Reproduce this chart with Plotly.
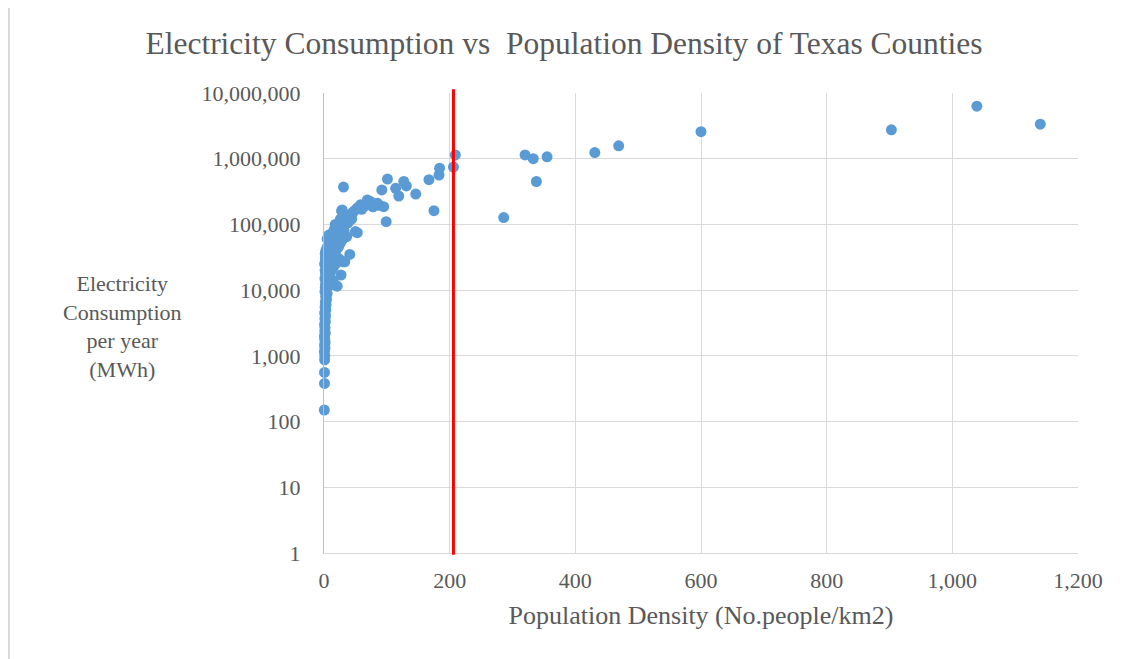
import plotly.graph_objects as go

# Population density (people/km2) and electricity consumption (MWh/yr)
density = [
    0.5, 0.8, 0.8, 1.0, 1.2, 0.6, 1.5, 0.9, 1.8, 1.1, 0.7, 2.0, 1.3, 1.6, 0.9, 2.2, 1.4, 2.5,
    1.0, 2.8, 1.7, 3.2, 2.1, 4.0, 2.6, 5.0, 1.5, 3.5, 6.5, 2.4, 4.5, 8.0, 3.0, 5.5, 1.8, 7.0,
    1.0, 2.0, 3.0, 1.5, 2.5, 4.0, 6.0, 3.0, 7.0, 5.0, 8.0, 9.0, 2.0, 3.8, 6.0,
    10, 18, 14, 21, 9, 27, 12, 16, 6, 20, 24, 11, 4, 15, 19, 8, 23, 13, 26, 17, 5, 21, 10, 28,
    14, 22, 30, 18, 35, 26, 40, 33, 45, 28, 38, 24, 32, 20, 36, 42, 48, 12, 29, 16, 25,
    7.5, 2, 31, 21, 37, 45, 50, 60, 65, 78, 88, 44,
    31, 29, 53, 41, 33, 53, 58, 69, 74, 85, 92, 95, 99, 101, 114, 119, 127, 131, 146, 167,
    175, 183, 184, 206, 209, 286, 320, 333, 338, 355, 431, 469, 600, 903, 1039, 1140,
]
consumption = [
    150, 380, 560, 870, 1000, 1150, 1300, 1450, 1600, 1800, 2000, 2200, 2400, 2700, 3000, 3300,
    3700, 4100, 4500, 5000, 5500, 6000, 6600, 7200, 8000, 8800, 9500, 10500, 11500, 12500,
    13500, 15000, 16500, 18000, 20000, 22000,
    25000, 30000, 40000, 15000, 18000, 22000, 28000, 33000, 38000, 45000, 50000, 58000, 11000,
    9000, 14000,
    12000, 12000, 14000, 11500, 17000, 17000, 20000, 23000, 25000, 26000, 30000, 32000, 35000,
    36000, 40000, 42000, 45000, 48000, 52000, 55000, 60000, 62000, 66000, 68000,
    75000, 85000, 95000, 100000, 110000, 120000, 125000, 140000, 150000, 160000, 105000, 90000,
    80000, 70000, 65000, 130000, 160000, 55000, 58000, 82000, 72000,
    69000, 36000, 27000, 88000, 117000, 148000, 78000, 170000, 190000, 185000, 195000, 120000,
    370000, 166000, 75000, 35000, 27000, 178000, 199000, 236000, 223000, 210000, 335000,
    186000, 110000, 490000, 355000, 270000, 450000, 386000, 290000, 480000,
    162000, 565000, 716000, 745000, 1140000, 127000, 1140000, 1000000, 450000, 1070000,
    1240000, 1570000, 2580000, 2750000, 6300000, 3350000,
]

threshold_density = 206

x_ticks = [0, 200, 400, 600, 800, 1000, 1200]
x_tick_text = ["0", "200", "400", "600", "800", "1,000", "1,200"]
y_ticks = [1, 10, 100, 1000, 10000, 100000, 1000000, 10000000]
y_tick_text = ["1", "10", "100", "1,000", "10,000", "100,000", "1,000,000", "10,000,000"]

FONT = "Liberation Serif"
GREY = "#595959"

W, H = 1120, 651  # page body adds an 8px offset
L, R, T, B = 316, 50, 85, 106
PW = W - L - R
PH = H - T - B

fig = go.Figure()
fig.add_trace(go.Scatter(
    x=density, y=consumption, mode="markers",
    marker=dict(color="#5B9BD5", size=11, line=dict(width=0)),
    showlegend=False, cliponaxis=False,
))

fig.add_shape(type="line", xref="x", yref="paper", x0=threshold_density, x1=threshold_density,
              y0=-0.004, y1=1.008, line=dict(color="#FF0000", width=3), layer="above")

# left frame line of the original screenshot
fx = (1 - L) / PW
fig.add_shape(type="line", xref="paper", yref="paper", x0=fx, x1=fx, y0=(PH + T) / PH, y1=-0.3,
              line=dict(color="#d9d9d9", width=2))

fig.update_layout(
    width=W, height=H,
    margin=dict(l=L, r=R, t=T, b=B, autoexpand=False),
    paper_bgcolor="white", plot_bgcolor="white",
    title=dict(text="Electricity Consumption vs  Population Density of Texas Counties",
               x=(564 - 8) / W, xanchor="center", y=1 - 35 / H, yanchor="middle",
               font=dict(family=FONT, size=31.5, color=GREY)),
    xaxis=dict(range=[0, 1200], tickvals=x_ticks, ticktext=x_tick_text,
               showgrid=True, gridcolor="#d9d9d9", gridwidth=1,
               zeroline=False, showline=True, linecolor="#d9d9d9", linewidth=1,
               ticks="", ticklabelstandoff=8,
               tickfont=dict(family=FONT, size=22, color=GREY),
               title=dict(text="Population Density (No.people/km2)", standoff=13,
                          font=dict(family=FONT, size=26, color=GREY))),
    yaxis=dict(type="log", range=[0, 7], tickvals=y_ticks, ticktext=y_tick_text,
               showgrid=True, gridcolor="#d9d9d9", gridwidth=1,
               zeroline=False, showline=True, linecolor="#bfbfbf", linewidth=1,
               ticks="", ticklabelstandoff=18,
               tickfont=dict(family=FONT, size=22, color=GREY)),
    annotations=[dict(text="Electricity<br>Consumption<br>per year<br>(MWh)",
                      xref="paper", yref="paper", x=(114 - L) / PW, y=(PH + T - 318) / PH,
                      xanchor="center", yanchor="middle", showarrow=False, align="center",
                      font=dict(family=FONT, size=22, color=GREY))],
)

fig.write_html("out.html")
